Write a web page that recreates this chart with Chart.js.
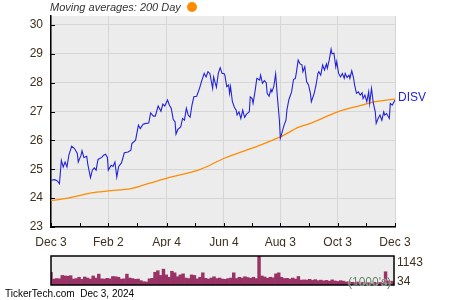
<!DOCTYPE html>
<html>
<head>
<meta charset="utf-8">
<script src="https://cdn.jsdelivr.net/npm/chart.js@4.4.0/dist/chart.umd.min.js"></script>
<style>
body { margin: 0; background: #fff; }
#wrap { position: relative; width: 450px; height: 300px; font-family: "Liberation Sans", Arial, sans-serif; }
canvas { position: absolute; left: 0; }
#main { top: 0; }
#vol { top: 250px; }
.txt { position: absolute; white-space: pre; line-height: 14px; }
</style>
</head>
<body>
<div id="wrap">
  <canvas id="main" width="450" height="250"></canvas>
  <canvas id="vol" width="450" height="40"></canvas>
  <div class="txt" style="left:50px;top:0px;font-size:11px;font-style:italic;color:#333;">Moving averages: 200 Day</div>
  <div style="position:absolute;left:187px;top:2px;width:10px;height:10px;border-radius:5px;background:#ff8c00;"></div>
  <div class="txt" style="left:348px;top:275px;font-size:12px;color:#5b7d62;text-shadow:0 0 1px #fff,0 0 1px #fff;">(1000's)</div>
  <div class="txt" style="left:5px;top:287px;font-size:10px;color:#000;">TickerTech.com  Dec 3, 2024</div>
</div>
<script>
// days since Dec 3 2023
var xTickDays = [0, 61, 123, 184, 244, 305, 366];
var xTickLabels = ["Dec 3", "Feb 2", "Apr 4", "Jun 4", "Aug 3", "Oct 3", "Dec 3"];
var yTicks = [23, 24, 25, 26, 27, 28, 29, 30];

var priceDays = [0,4,7,9,11,13,15,17,19,22,25,28,29,32,33,35,38,39,42,44,46,48,50,54,56,58,60,61,64,66,68,70,72,75,78,82,85,86,90,93,95,98,101,104,106,109,111,114,117,119,121,124,126,128,130,132,133,135,138,140,142,144,146,148,150,152,155,158,160,163,165,167,169,172,173,176,178,180,182,184,185,187,189,190,191,193,195,197,198,200,202,204,206,208,211,212,214,215,217,219,222,223,225,227,229,230,232,234,235,237,239,241,243,244,245,248,250,251,253,256,258,260,261,263,265,267,268,270,272,274,276,277,280,282,284,285,287,289,291,293,294,296,298,299,301,303,304,306,308,310,312,313,315,317,318,320,322,323,325,327,329,331,332,334,336,338,339,341,343,345,346,348,350,352,354,355,357,360,361,363,366];
var priceValues = [24.62,24.64,24.59,24.50,25.31,25.08,25.25,25.08,25.49,25.80,25.72,25.55,25.25,25.49,25.64,25.41,25.45,25.20,24.71,24.97,25.05,24.97,25.34,25.41,25.49,25.52,25.41,24.97,25.14,25.10,25.25,24.73,25.10,25.22,25.57,25.60,25.66,25.89,26.01,26.53,26.41,26.56,26.59,26.60,26.95,26.84,26.84,27.19,27.01,27.26,27.19,27.40,27.22,27.11,26.73,26.64,26.22,26.38,26.47,26.76,26.70,27.11,26.88,26.80,27.22,27.51,27.53,27.80,28.03,28.32,28.20,28.38,28.32,27.80,28.20,27.84,28.32,28.52,28.32,28.32,28.26,27.86,27.92,27.63,27.86,27.34,27.16,27.05,26.88,26.99,26.76,27.05,26.80,26.91,26.99,27.51,27.45,27.28,27.68,28.15,28.09,28.26,27.98,28.07,28.00,27.63,27.53,27.77,27.68,27.86,28.30,27.45,26.70,26.07,26.18,26.53,26.70,27.05,27.40,27.68,28.11,28.15,28.34,28.78,28.65,28.62,28.38,28.55,28.03,27.92,27.63,27.34,27.63,27.92,28.32,28.38,28.26,28.61,28.44,28.65,28.50,28.78,29.16,29.00,29.02,28.55,28.73,28.32,28.20,28.32,28.15,28.32,28.18,28.26,28.15,28.41,28.15,27.92,27.63,27.68,27.57,27.65,27.45,27.57,27.34,27.68,27.28,27.80,27.28,26.99,26.59,26.76,26.88,26.70,26.99,26.88,26.93,26.76,27.28,27.22,27.40];

var maDays = [0, 18, 43, 61, 85, 103, 122, 159, 185, 222, 244, 263, 276, 305, 327, 345, 366];
var maValues = [23.92, 24.0, 24.18, 24.25, 24.33, 24.5, 24.68, 25.0, 25.39, 25.83, 26.12, 26.45, 26.59, 26.99, 27.19, 27.34, 27.43];

// volume in 1000's, one bar every 3 days
var volStep = 3;
var volume = [520,260,280,270,400,380,370,390,260,280,330,250,340,300,260,380,300,450,270,260,290,270,360,350,330,260,270,450,300,280,250,260,200,160,150,270,290,520,580,400,640,420,330,560,500,350,420,460,300,280,420,400,270,330,500,290,260,300,350,280,300,260,250,280,300,500,280,330,300,350,320,290,330,280,1143,380,340,290,330,310,460,500,330,280,290,260,300,260,360,220,230,220,250,210,240,200,220,190,210,180,230,190,170,200,180,150,160,140,130,150,120,140,130,120,110,140,120,130,120,540,200,180,150];
var volTicks = [34, 1143];

var allXTicks = [];
for (var i = 0; i < xTickDays.length; i++) {
    allXTicks.push(xTickDays[i]);
    if (i < xTickDays.length - 1) allXTicks.push((xTickDays[i] + xTickDays[i + 1]) / 2);
}

var mainPlugin = {
    id: 'mainPlugin',
    beforeDraw: function(chart) {
        var a = chart.chartArea, ctx = chart.ctx;
        ctx.save();
        ctx.fillStyle = '#ececec';
        ctx.fillRect(a.left, a.top, a.right - a.left, a.bottom - a.top);
        ctx.restore();
    },
    afterDraw: function(chart) {
        var a = chart.chartArea, ctx = chart.ctx;
        var xs = chart.scales.x, ys = chart.scales.y;
        ctx.save();
        ctx.strokeStyle = '#000';
        ctx.lineWidth = 1;
        ctx.beginPath();
        xs.ticks.forEach(function(t) {
            var px = Math.round(xs.getPixelForValue(t.value)) + 0.5;
            ctx.moveTo(px, a.bottom);
            ctx.lineTo(px, a.bottom - 4);
        });
        ys.ticks.forEach(function(t) {
            var py = Math.round(ys.getPixelForValue(t.value)) + 0.5;
            ctx.moveTo(a.left, py);
            ctx.lineTo(a.left + 4, py);
        });
        ctx.stroke();
        // series label at the last price
        var last = priceValues[priceValues.length - 1];
        ctx.fillStyle = '#2323d8';
        ctx.font = '12px "Liberation Sans", Arial, sans-serif';
        ctx.textBaseline = 'middle';
        ctx.fillText('DISV', a.right + 3, ys.getPixelForValue(last) - 2);
        ctx.restore();
    }
};

new Chart(document.getElementById('main').getContext('2d'), {
    type: 'line',
    data: {
        datasets: [{
            label: 'DISV',
            data: priceDays.map(function(d, i) { return {x: d, y: priceValues[i]}; }),
            borderColor: '#2323d8',
            borderWidth: 1.1,
            pointRadius: 0,
            tension: 0
        }, {
            label: '200 Day',
            data: maDays.map(function(d, i) { return {x: d, y: maValues[i]}; }),
            borderColor: '#ff8c00',
            borderWidth: 1.3,
            pointRadius: 0,
            tension: 0.3
        }]
    },
    options: {
        responsive: false,
        animation: false,
        layout: { padding: { left: 0, right: 55, top: 16, bottom: 3 } },
        plugins: { legend: { display: false }, tooltip: { enabled: false } },
        scales: {
            x: {
                type: 'linear', min: 0, max: 366,
                afterBuildTicks: function(s) { s.ticks = allXTicks.map(function(v) { return {value: v}; }); },
                afterFit: function(s) { s.height = 20; },
                grid: {
                    color: function(c) { return xTickDays.indexOf(c.tick.value) >= 0 ? '#d6d6d6' : 'rgba(0,0,0,0)'; },
                    drawTicks: false
                },
                border: { color: '#000', width: 1.5 },
                ticks: {
                    autoSkip: false, maxRotation: 0, padding: 8, color: '#3d3020',
                    font: { family: '"Liberation Sans", Arial, sans-serif', size: 12 },
                    callback: function(v) { var k = xTickDays.indexOf(v); return k >= 0 ? xTickLabels[k] : ''; }
                }
            },
            y: {
                min: 23, max: 30.31,
                afterBuildTicks: function(s) {
                    var t = [];
                    yTicks.forEach(function(v) { t.push({value: v}); if (v < 30) t.push({value: v + 0.5}); });
                    s.ticks = t;
                },
                afterFit: function(s) { s.width = 51; },
                grid: {
                    color: function(c) { return yTicks.indexOf(c.tick.value) >= 0 ? '#d6d6d6' : 'rgba(0,0,0,0)'; },
                    drawTicks: false
                },
                border: { color: '#000', width: 1.5 },
                ticks: {
                    padding: 8, color: '#3d3020',
                    font: { family: '"Liberation Sans", Arial, sans-serif', size: 12 },
                    callback: function(v) { return yTicks.indexOf(v) >= 0 ? String(v) : ''; }
                }
            }
        }
    },
    plugins: [mainPlugin]
});

var volPlugin = {
    id: 'volPlugin',
    beforeDraw: function(chart) {
        var a = chart.chartArea, ctx = chart.ctx;
        ctx.save();
        ctx.fillStyle = '#ececec';
        ctx.fillRect(a.left, a.top, a.right - a.left, a.bottom - a.top);
        ctx.restore();
    },
    afterDraw: function(chart) {
        var a = chart.chartArea, ctx = chart.ctx;
        ctx.save();
        ctx.strokeStyle = '#000';
        ctx.lineWidth = 1.5;
        ctx.strokeRect(a.left, a.top, a.right - a.left, a.bottom - a.top);
        ctx.fillStyle = '#3d3020';
        ctx.font = '12px "Liberation Sans", Arial, sans-serif';
        ctx.textBaseline = 'middle';
        ctx.fillText(String(volTicks[1]), a.right + 3, a.top + 7);
        ctx.fillText(String(volTicks[0]), a.right + 3, a.bottom - 3);
        ctx.restore();
    }
};

new Chart(document.getElementById('vol').getContext('2d'), {
    type: 'bar',
    data: {
        datasets: [{
            data: volume.map(function(v, i) { return {x: i * volStep, y: v}; }),
            backgroundColor: '#993366',
            barPercentage: 1,
            categoryPercentage: 1,
            borderWidth: 0
        }]
    },
    options: {
        responsive: false,
        animation: false,
        layout: { padding: { left: 51, right: 56, top: 6, bottom: 5 } },
        plugins: { legend: { display: false }, tooltip: { enabled: false } },
        scales: {
            x: { type: 'linear', min: 0, max: 366, display: false, offset: false },
            y: { min: volTicks[0], max: volTicks[1], display: false }
        }
    },
    plugins: [volPlugin]
});
</script>
</body>
</html>
